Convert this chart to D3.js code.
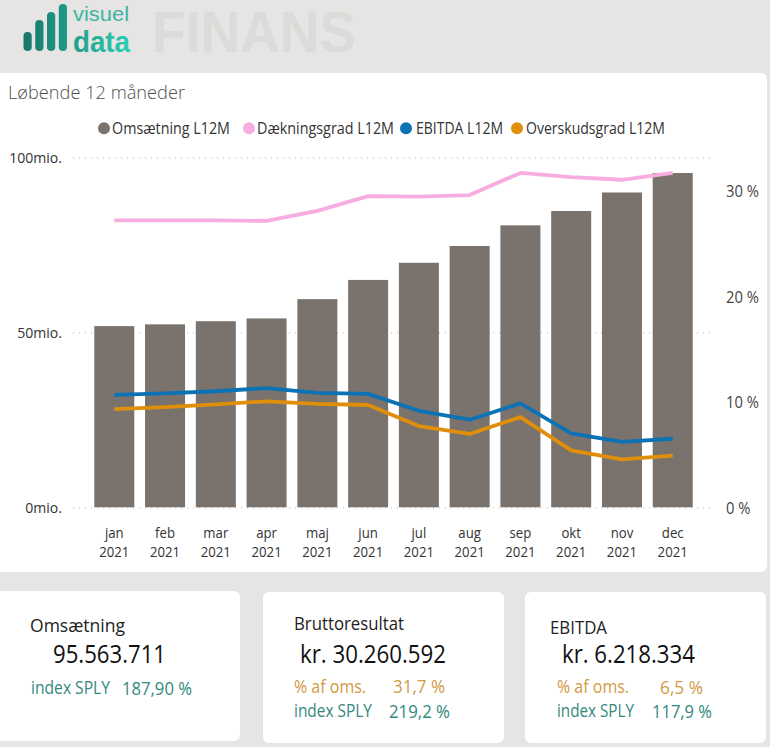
<!DOCTYPE html>
<html><head><meta charset="utf-8">
<script src="https://cdn.jsdelivr.net/npm/d3@7"></script>
<style>html,body{margin:0;padding:0;background:#E6E5E3;overflow:hidden}svg{display:block}text{font-family:"Open Sans",sans-serif}</style>
</head><body><svg id="c" width="770" height="747"></svg>
<script>
const months=["jan","feb","mar","apr","maj","jun","jul","aug","sep","okt","nov","dec"];
const years=["2021","2021","2021","2021","2021","2021","2021","2021","2021","2021","2021","2021"];
const omsaetning=[51.8,52.3,53.2,54.0,59.5,65.0,69.9,74.7,80.6,84.7,90.0,95.56];
const daekningsgrad=[27.2,27.2,27.2,27.15,28.1,29.5,29.45,29.6,31.7,31.3,31.05,31.7];
const ebitda=[10.65,10.8,11.0,11.3,10.85,10.75,9.15,8.3,9.85,7.0,6.2,6.5];
const overskudsgrad=[9.3,9.5,9.75,10.05,9.8,9.7,7.7,6.95,8.55,5.4,4.55,4.9];
const leftTicks=[0,50,100];
const rightTicks=[0,10,20,30];
const seriesNames=["Omsætning L12M","Dækningsgrad L12M","EBITDA L12M","Overskudsgrad L12M"];
const seriesColors=["#7A726C","#F7ADE0","#0A72B5","#E08F0B"];
const logoHeights=[19,31,39,47];

const svg=d3.select("#c");
const defs=svg.append("defs");
const g=defs.append("linearGradient").attr("id","lg").attr("gradientUnits","userSpaceOnUse")
 .attr("x1",24).attr("x2",130).attr("y1",0).attr("y2",0);
g.append("stop").attr("offset",0).attr("stop-color","#17776A");
g.append("stop").attr("offset",1).attr("stop-color","#2CCDB3");

function fit(sel,x,w){return sel.attr("x",x).attr("textLength",w).attr("lengthAdjust","spacingAndGlyphs");}
function squeeze(sel,ratio){sel.each(function(){const w=this.getComputedTextLength();
 d3.select(this).attr("textLength",w*ratio).attr("lengthAdjust","spacingAndGlyphs");});}
const logoFont='"Liberation Sans",sans-serif';

// header
const logoX=d3.scaleBand().domain(d3.range(4)).range([23.5,67]).paddingInner(0.3);
svg.append("g").selectAll("rect").data(logoHeights).join("rect")
 .attr("x",(d,i)=>logoX(i)).attr("width",logoX.bandwidth()).attr("y",d=>51-d).attr("height",d=>d)
 .attr("rx",logoX.bandwidth()/2).attr("fill","url(#lg)");
fit(svg.append("text").text("visuel").attr("y",20.5).attr("font-size",20).attr("fill","#3BB5A2").style("font-family",logoFont),73,56);
fit(svg.append("text").text("data").attr("y",51.5).attr("font-size",29).attr("font-weight",700).attr("fill","url(#lg)").style("font-family",logoFont),73,57);
fit(svg.append("text").text("FINANS").attr("y",52).attr("font-size",57).attr("font-weight",700).attr("fill","#DBDBD9").style("font-family",logoFont),152,204);

// panels
const panels=[[-6,73,773,499],[-6,591,246,150],[263,592,241,151],[525,592,241,151]];
svg.append("g").selectAll("rect").data(panels).join("rect")
 .attr("x",d=>d[0]).attr("y",d=>d[1]).attr("width",d=>d[2]).attr("height",d=>d[3]).attr("rx",6).attr("fill","#fff");

fit(svg.append("text").text("Løbende 12 måneder").attr("y",99).attr("font-size",18.7).attr("font-weight",300).attr("fill","#505050"),8,177);

// legend
const legX=[104,249,406,517], legTextX=[112,257,416,526], legW=[118,137,87,139];
const leg=svg.append("g").selectAll("g").data(seriesNames).join("g");
leg.append("circle").attr("cx",(d,i)=>legX[i]).attr("cy",128.3).attr("r",6).attr("fill",(d,i)=>seriesColors[i]);
leg.append("text").text(d=>d).attr("y",134).attr("font-size",15.5).attr("fill","#333")
 .attr("x",(d,i)=>legTextX[i]).attr("textLength",(d,i)=>legW[i]).attr("lengthAdjust","spacingAndGlyphs");

// scales
const x=d3.scaleBand().domain(months).range([88.9,698.1]).paddingInner(0.212).paddingOuter(0.106);
const yL=d3.scaleLinear().domain([0,100]).range([507.3,157.5]);
const yR=d3.scaleLinear().domain([0,33.16]).range([507.3,157.5]);

// grid
const grid=svg.append("g");
grid.selectAll("line.l").data(leftTicks).join("line").attr("class","l")
 .attr("x1",73).attr("x2",712).attr("y1",d=>yL(d)+.5).attr("y2",d=>yL(d)+.5)
 .attr("stroke","#B5B5B5").attr("stroke-width",1).attr("stroke-dasharray","1 5");

// bars
svg.append("g").selectAll("rect").data(omsaetning).join("rect")
 .attr("x",(d,i)=>x(months[i])).attr("width",x.bandwidth())
 .attr("y",d=>yL(d)).attr("height",d=>yL(0)-yL(d)).attr("fill",seriesColors[0]);

// lines
const lineGen=d3.line().x((d,i)=>x(months[i])+x.bandwidth()/2).y(d=>yR(d));
[[daekningsgrad,1],[ebitda,2],[overskudsgrad,3]].forEach(([s,c])=>{
 svg.append("path").datum(s).attr("d",lineGen).attr("fill","none")
  .attr("stroke",seriesColors[c]).attr("stroke-width",3.8).attr("stroke-linejoin","round");
});

// axes
const axL=d3.axisLeft(yL).tickValues(leftTicks).tickSize(0).tickPadding(0).tickFormat(d=>d+"mio.");
const aL=svg.append("g").attr("transform","translate(62,0)").call(axL);
aL.select(".domain").remove();
aL.selectAll("text").attr("font-size",14.5).attr("fill","#333").attr("dy","5.4px").style("font-family",'"Open Sans",sans-serif').call(squeeze,0.97);

const axR=d3.axisRight(yR).tickValues(rightTicks).tickSize(0).tickPadding(0).tickFormat(d=>d+" %");
const aR=svg.append("g").attr("transform","translate(726,0)").call(axR);
aR.select(".domain").remove();
aR.selectAll("text").attr("font-size",15.5).attr("fill","#444").attr("dy","5.8px").style("font-family",'"Open Sans",sans-serif').call(squeeze,0.95);

const axB=d3.axisBottom(x).tickSize(0).tickPadding(0);
const aB=svg.append("g").attr("transform","translate(0,522.7)").call(axB);
aB.select(".domain").remove();
aB.selectAll("text").attr("font-size",15).attr("fill","#333").attr("dy",0).attr("y",15).style("font-family",'"Open Sans",sans-serif').call(squeeze,0.88);
const aY=d3.axisBottom(x).tickSize(0).tickPadding(0).tickFormat((d,i)=>years[i]);
const aB2=svg.append("g").attr("transform","translate(0,542.3)").call(aY);
aB2.select(".domain").remove();
aB2.selectAll("text").attr("font-size",15).attr("fill","#333").attr("dy",0).attr("y",15).style("font-family",'"Open Sans",sans-serif').call(squeeze,0.88);

// cards
const cardTexts=["Omsætning","95.563.711","index SPLY","187,90 %",
 "Bruttoresultat","kr. 30.260.592","% af oms.","31,7 %","index SPLY","219,2 %",
 "EBITDA","kr. 6.218.334","% af oms.","6,5 %","index SPLY","117,9 %"];
const ink="#222",teal="#33897D",amber="#D29A45";
const cardLayout=[
 [30,95,631.7,18.5,ink],[53,113,663.3,24.7,"#111"],[31,79,694.3,17.5,teal],[122,70,695,17.5,teal],
 [294,110,630,18.5,ink],[300,146,663.3,24.7,"#111"],[294,72,692.7,17.5,amber],[393,52,693.3,17.5,amber],[294,78,716.7,17.5,teal],[389,61,718.3,17.5,teal],
 [550,57,634,18.5,ink],[562,133,663.3,24.7,"#111"],[557,72,692.7,17.5,amber],[660,43,694.3,17.5,amber],[557,77,717.3,17.5,teal],[652,60,718.3,17.5,teal]];
svg.append("g").selectAll("text").data(cardTexts).join("text").text(d=>d)
 .attr("x",(d,i)=>cardLayout[i][0]).attr("textLength",(d,i)=>cardLayout[i][1]).attr("lengthAdjust","spacingAndGlyphs")
 .attr("y",(d,i)=>cardLayout[i][2]).attr("font-size",(d,i)=>cardLayout[i][3]).attr("fill",(d,i)=>cardLayout[i][4]);
</script></body></html>
